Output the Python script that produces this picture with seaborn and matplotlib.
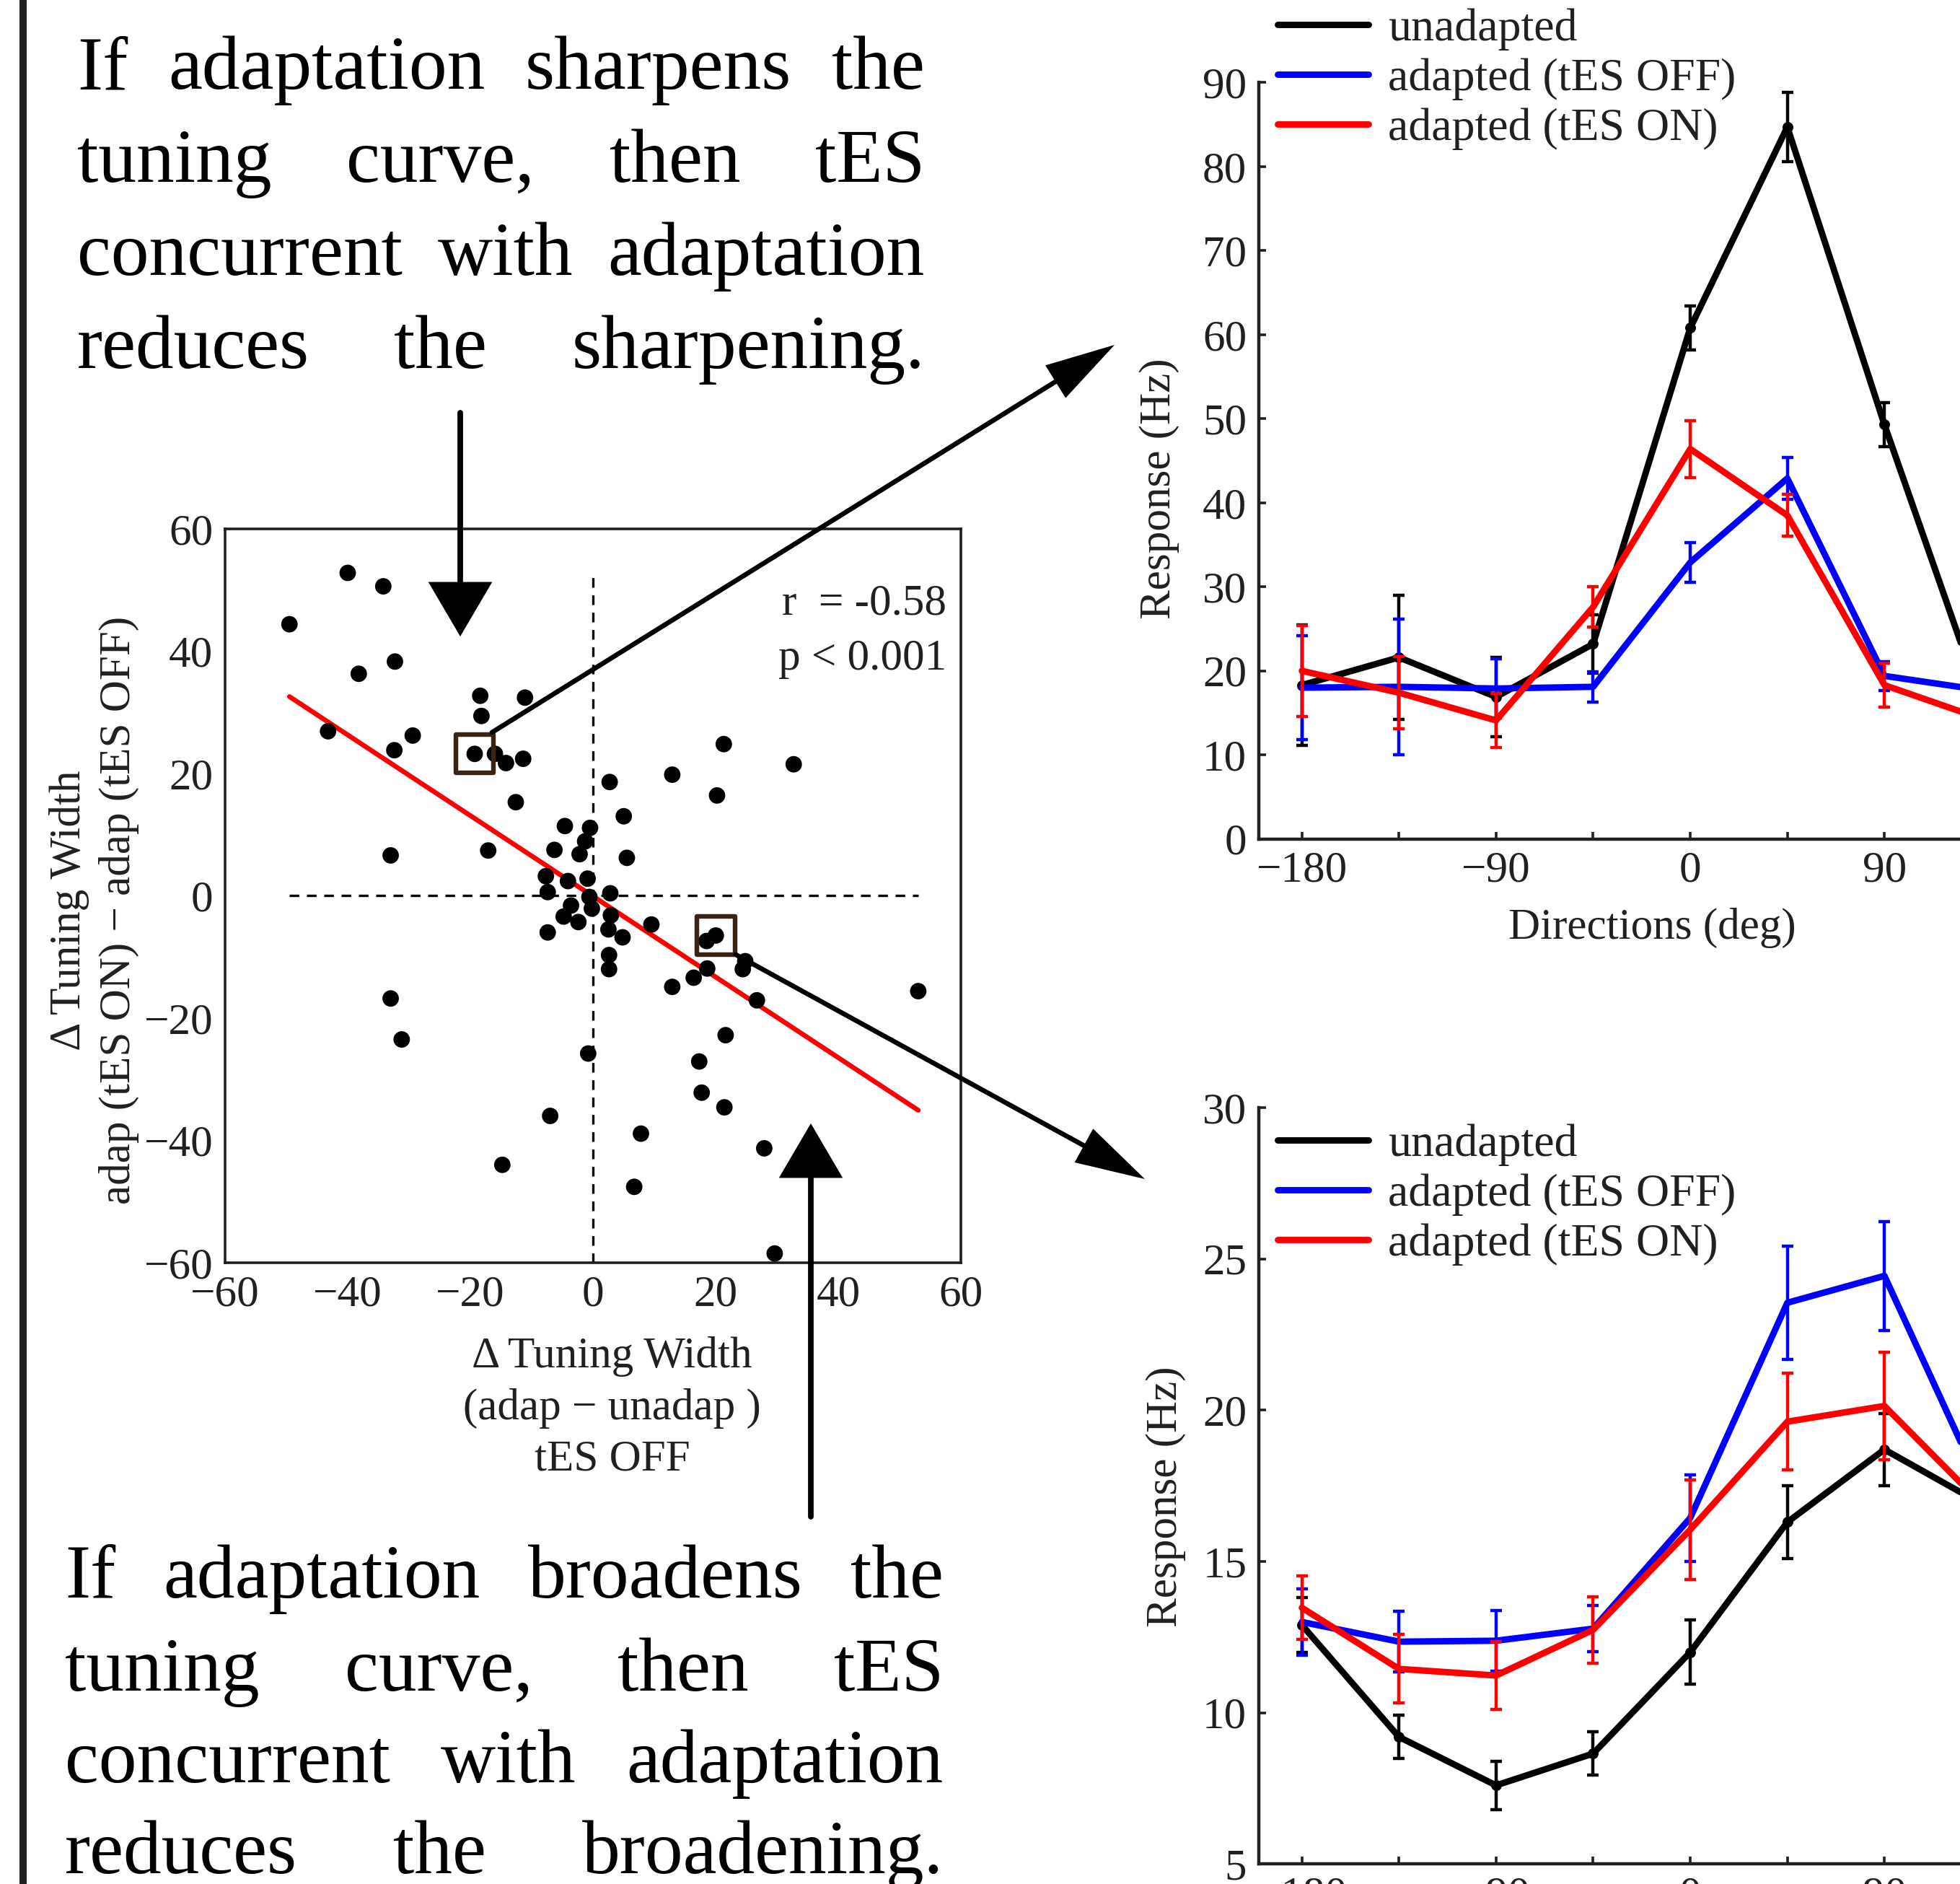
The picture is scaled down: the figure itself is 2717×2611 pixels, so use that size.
import numpy as np
import pandas as pd
import matplotlib
matplotlib.use("Agg")
import matplotlib.pyplot as plt
import seaborn as sns
from matplotlib.patches import FancyArrowPatch, Rectangle, ArrowStyle
from matplotlib.lines import Line2D
from matplotlib.transforms import IdentityTransform
from matplotlib.ticker import FixedLocator

# ---------------- data ----------------
delta_width_adap = [-40.0, -34.2, -49.5, -32.3, -38.2, -18.4, -11.1, -18.2, -43.2, -29.4,
                    -32.4, -19.3, -16.0, -14.2, -11.4, 21.3, 32.7, 12.9, 2.7, 20.2,
                    -12.6, 5.0, -4.6, -0.5, -1.3, 5.5, -6.3, -2.2, -17.1, -33.0,
                    -7.7, -0.9, -4.1, -7.4, 2.8, -0.6, -3.6, -0.2, 2.9, -4.8,
                    -2.4, 2.5, -7.4, 9.5, 4.8, 18.5, 20.0, 2.6, 2.6, 18.6,
                    24.8, 24.4, 16.4, 12.9, 26.7, 53.0, -33.0, -31.2, 21.6, -0.8,
                    17.3, 17.7, 21.4, -7.0, 7.8, 27.9, -14.8, 6.7, 29.6]
delta_width_tes = [52.8, 50.6, 44.4, 38.3, 36.3, 32.7, 32.4, 29.4, 26.9, 26.2,
                   23.8, 23.2, 23.2, 21.7, 22.4, 24.8, 21.5, 19.8, 18.6, 16.4,
                   15.3, 13.0, 11.4, 11.1, 8.9, 6.2, 7.5, 6.8, 7.4, 6.6,
                   3.2, 2.8, 2.4, 0.6, 0.4, -0.2, -1.6, -2.1, -3.2, -3.4,
                   -4.3, -5.5, -6.0, -4.7, -6.8, -7.4, -6.5, -9.7, -12.0, -11.9,
                   -10.7, -12.0, -13.4, -14.9, -17.1, -15.6, -16.8, -23.5, -22.8, -25.8,
                   -27.1, -32.2, -34.6, -36.0, -38.9, -41.3, -44.0, -47.6, -58.5]
fit_slope = -0.66
fit_intercept = -0.1
stat_r = "r  = -0.58"
stat_p = "p < 0.001"
example_x = [-19.3, 20.0]
example_y = [23.2, -6.5]

directions = [-180, -135, -90, -45, 0, 45, 90, 135]
conditions = ["unadapted", "adapted (tES OFF)", "adapted (tES ON)"]

cell1_unadapted = [18.3, 21.6, 16.9, 23.2, 60.8, 84.7, 49.3, 16.3]
cell1_unadapted_err = [7.2, 7.4, 4.7, 3.5, 2.6, 4.1, 2.6, 2.5]
cell1_off = [18.0, 18.1, 17.9, 18.1, 32.9, 42.9, 19.4, 17.7]
cell1_off_err = [6.2, 8.1, 3.5, 1.8, 2.4, 2.5, 1.7, 1.5]
cell1_on = [20.0, 17.4, 14.1, 27.6, 46.4, 38.5, 18.3, 14.3]
cell1_on_err = [5.4, 4.3, 3.2, 2.4, 3.4, 2.5, 2.6, 2.0]

cell2_unadapted = [12.9, 9.2, 7.6, 8.65, 12.0, 16.3, 18.7, 16.9]
cell2_unadapted_err = [0.9, 0.72, 0.8, 0.72, 1.06, 1.2, 1.2, 1.1]
cell2_off = [13.0, 12.35, 12.38, 12.78, 16.44, 23.55, 24.44, 17.45]
cell2_off_err = [1.1, 1.0, 1.0, 0.77, 1.43, 1.87, 1.8, 1.5]
cell2_on = [13.47, 11.45, 11.23, 12.74, 16.05, 19.62, 20.14, 16.9]
cell2_on_err = [1.05, 1.13, 1.13, 1.1, 1.65, 1.6, 1.77, 1.5]

text_top = [["If", "adaptation", "sharpens", "the"],
            ["tuning", "curve,", "then", "tES"],
            ["concurrent", "with", "adaptation"],
            ["reduces", "the", "sharpening."]]
text_bottom = [["If", "adaptation", "broadens", "the"],
               ["tuning", "curve,", "then", "tES"],
               ["concurrent", "with", "adaptation"],
               ["reduces", "the", "broadening."]]

# ---------------- style ----------------
W, H = 2717, 2611
DPI = 100
sns.set_theme(style="white")
plt.rcParams["font.family"] = ["Liberation Serif", "DejaVu Serif"]
plt.rcParams["axes.unicode_minus"] = True
INK = "#231f20"
COLORS = ["#000000", "#0000ff", "#ff0000"]
FS = 44
LW = 6.4

fig = plt.figure(figsize=(W / DPI, H / DPI), dpi=DPI)
fig.patch.set_facecolor("white")


def fx(x):
    return x / W


def fy(y):
    return 1 - y / H


# ---------------- scatter panel ----------------
ax0 = fig.add_axes([0.1148, 0.3298, 0.3756, 0.3895])
ax0.set_xlim(-60, 60)
ax0.set_ylim(-60, 60)
xs_lim = np.array([min(delta_width_adap), max(delta_width_adap)])
ax0.plot(xs_lim, [0, 0], color="black", lw=2.4, ls=(0, (4, 3.2)), zorder=1)
ax0.plot([0, 0], [-60, max(delta_width_tes)], color="black", lw=2.4, ls=(0, (4, 3.2)), zorder=1)
ax0.plot(xs_lim, fit_slope * xs_lim + fit_intercept, color="#ff0000", lw=4.8, zorder=2,
         solid_capstyle="round")
sns.scatterplot(x=delta_width_adap, y=delta_width_tes, color="black", s=270,
                edgecolor="none", ax=ax0, zorder=3)
ax0.scatter(example_x, example_y, marker="s", s=38 ** 2, facecolors="none",
            edgecolors="#3b2314", linewidths=4.6, zorder=4)
ax0.set_xticks(np.arange(-60, 61, 20))
ax0.set_yticks(np.arange(-60, 61, 20))
ax0.tick_params(direction="in", length=7, width=2.4, labelsize=FS, pad=12, colors=INK,
                labelcolor=INK)
for s in ax0.spines.values():
    s.set_visible(True)
    s.set_linewidth(2.6)
    s.set_color(INK)
ax0.grid(False)
ax0.text(0.98, 0.898, stat_r, transform=ax0.transAxes, ha="right", va="center",
         fontsize=FS, color=INK)
ax0.text(0.98, 0.823, stat_p, transform=ax0.transAxes, ha="right", va="center",
         fontsize=FS, color=INK)
ax0.set_xlabel("\u0394 Tuning Width\n(adap \u2212 unadap )\ntES OFF", fontsize=FS,
               color=INK, linespacing=1.36, va="center")
ax0.xaxis.set_label_coords(0.526, -0.198)
ax0.set_ylabel("\u0394 Tuning Width\nadap (tES ON) \u2212 adap (tES OFF)", fontsize=FS,
               color=INK, linespacing=1.3, va="center")
ax0.yaxis.set_label_coords(-0.178, 0.48)


# ---------------- tuning panels ----------------
def tuning(ax, series, errs, ylim, yticks):
    for i, (vals, err, cond) in enumerate(zip(series, errs, conditions)):
        ax.errorbar(directions, vals, yerr=err, fmt="none", ecolor=COLORS[i],
                    elinewidth=3.2, capsize=6, capthick=3.2, zorder=2 + 2 * i)
        df = pd.DataFrame({"direction": directions, "response": vals})
        sns.lineplot(data=df, x="direction", y="response", color=COLORS[i], lw=LW,
                     ax=ax, sort=False, zorder=3 + 2 * i,
                     marker="o" if i == 0 else None, markersize=10,
                     markeredgecolor=COLORS[i], legend=False)
    ax.set_xlim(-200, 160)
    ax.set_ylim(*ylim)
    ax.xaxis.set_major_locator(FixedLocator([-180, -90, 0, 90]))
    ax.xaxis.set_minor_locator(FixedLocator([-135, -45, 45, 135]))
    ax.set_yticks(yticks)
    ax.tick_params(which="both", direction="in", length=7, width=2.6, labelsize=FS,
                   pad=12, colors=INK, labelcolor=INK, bottom=True, left=True)
    for k in ["top", "right"]:
        ax.spines[k].set_visible(False)
    for k in ["left", "bottom"]:
        ax.spines[k].set_linewidth(3.2)
        ax.spines[k].set_color(INK)
    ax.grid(False)
    ax.set_xlabel("")
    ax.set_ylabel("Response (Hz)", fontsize=FS, color=INK, va="center")


ax1 = fig.add_axes([0.6422, 0.5547, 0.3963, 0.4015])
tuning(ax1, [cell1_unadapted, cell1_off, cell1_on],
       [cell1_unadapted_err, cell1_off_err, cell1_on_err], (0, 90), np.arange(0, 91, 10))
ax1.yaxis.set_label_coords(-0.128, 0.463)
ax1.set_xlabel("Directions (deg)", fontsize=FS, color=INK, va="center")
ax1.xaxis.set_label_coords(0.507, -0.118)

ax2 = fig.add_axes([0.6422, 0.0106, 0.3963, 0.4015])
tuning(ax2, [cell2_unadapted, cell2_off, cell2_on],
       [cell2_unadapted_err, cell2_off_err, cell2_on_err], (5, 30), np.arange(5, 31, 5))
ax2.yaxis.set_label_coords(-0.12, 0.486)

handles = [Line2D([], [], color=c, lw=LW) for c in COLORS]
for ytop in (0.9955, 0.4035):
    fig.legend(handles, conditions, loc="upper left", bbox_to_anchor=(0.6518, ytop),
               frameon=False, fontsize=46, handlelength=1.98, handletextpad=0.41,
               labelspacing=0.16, borderpad=0, borderaxespad=0, labelcolor=INK)

# ---------------- arrows ----------------
def arrow(p0, p1, hl, hw, lw):
    a = FancyArrowPatch((fx(p0[0]), fy(p0[1])), (fx(p1[0]), fy(p1[1])),
                        transform=fig.transFigure,
                        arrowstyle=ArrowStyle("-|>", head_length=hl, head_width=hw),
                        mutation_scale=1, lw=lw, color="black", shrinkA=0, shrinkB=0,
                        joinstyle="miter")
    fig.add_artist(a)


arrow((638, 572), (638, 882), 46, 27, 5.6)
arrow((1124, 2102), (1124, 1557), 46, 27, 5.6)
arrow((682, 1015), (1545, 478), 58, 16, 4.8)
arrow((1020, 1323), (1587, 1634), 58, 16, 4.8)

# left bar
fig.add_artist(Rectangle((fx(27), 0), fx(10), 1, transform=fig.transFigure,
                         color=INK, lw=0))

# ---------------- justified text ----------------
renderer = fig.canvas.get_renderer()


def justify(lines, x0, x1, baselines, size):
    for words, yb in zip(lines, baselines):
        ts = [fig.text(0, 0, w, fontsize=size, color="black", ha="left",
                       va="baseline", transform=IdentityTransform()) for w in words]
        widths = [t.get_window_extent(renderer).width for t in ts]
        gap = (x1 - x0 - sum(widths)) / (len(words) - 1)
        x = x0
        for t, w in zip(ts, widths):
            t.set_position((x, H - yb))
            x += w + gap


justify(text_top, 107, 1282, [123, 252, 381, 510], 76)
justify(text_bottom, 90, 1308, [2214, 2343, 2470, 2596], 76)

fig.savefig("out.png", dpi=DPI, facecolor="white")
